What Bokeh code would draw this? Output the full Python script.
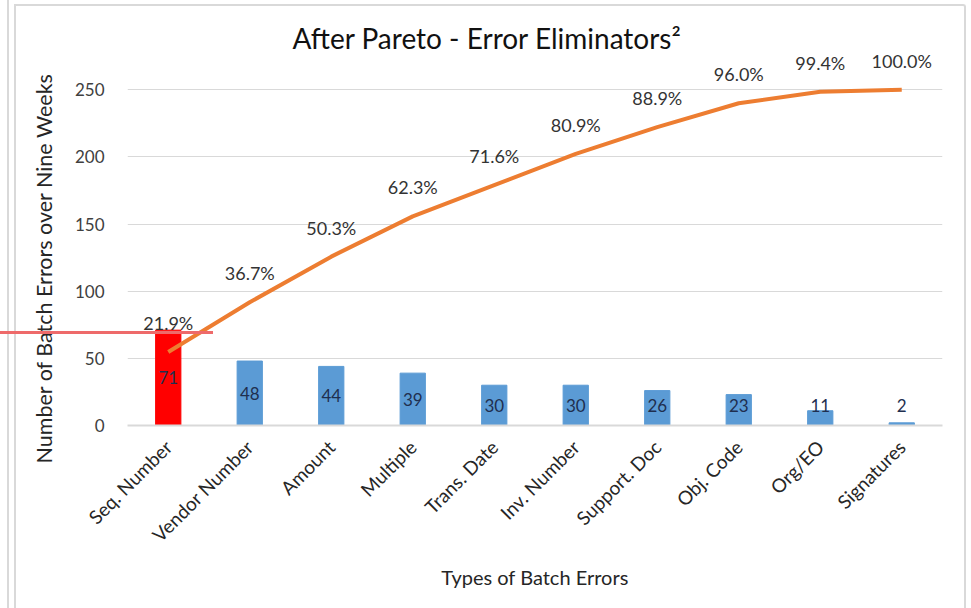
import math

from bokeh.core.properties import value
from bokeh.embed import file_html
from bokeh.models import (ColumnDataSource, FactorRange, FixedTicker, InlineStyleSheet,
                          Range1d, Title)
from bokeh.plotting import figure
from bokeh.resources import INLINE

# Batch error counts over nine weeks, sorted for the Pareto view
categories = ["Seq. Number", "Vendor Number", "Amount", "Multiple", "Trans. Date",
              "Inv. Number", "Support. Doc", "Obj. Code", "Org/EO", "Signatures"]
errors = [71, 48, 44, 39, 30, 30, 26, 23, 11, 2]
cumulative_pct = [21.9, 36.7, 50.3, 62.3, 71.6, 80.9, 88.9, 96.0, 99.4, 100.0]
y_ticks = [0, 50, 100, 150, 200, 250]

FONT = "Lato"
BLUE = "#5B9BD5"
RED = "#FF0000"
ORANGE = "#ED7D31"
GRID = "#D9D9D9"

# the top category is highlighted in red
bar_colors = [RED if i == 0 else BLUE for i in range(len(categories))]
# count labels sit mid-bar, but never lower than 15 units above the baseline
count_y = [max(v / 2, 15) for v in errors]

src = ColumnDataSource(dict(
    cat=categories,
    errors=errors,
    color=bar_colors,
    count_y=count_y,
    count_txt=[str(v) for v in errors],
    pct=cumulative_pct,
    pct_txt=[f"{v:.1f}%" for v in cumulative_pct],
))

# count axis tops out at 250; a little headroom keeps the percentage labels visible
y_top = 280
pct_top = 100 * y_top / 250

# chart border (open at the bottom), plus the red marker line level with the
# top of the leading bar
frame_css = InlineStyleSheet(css="""
:host { position: relative; }
:host::before {
  content: ""; position: absolute; left: 0; top: 0; width: 971px; height: 608px;
  background:
    linear-gradient(#EE6A6A, #EE6A6A) 0px 331px / 213px 3px no-repeat,
    linear-gradient(#D9D9D9, #D9D9D9) 7px 0px / 2px 608px no-repeat;
  z-index: 5; pointer-events: none;
}
:host::after {
  content: ""; position: absolute; left: 14px; top: 4px; width: 952px; height: 604px;
  border: 2px solid #D9D9D9; border-bottom: none; border-top-right-radius: 3px;
  box-sizing: border-box; z-index: 4; pointer-events: none;
}
""")

p = figure(x_range=FactorRange(*categories), y_range=Range1d(0, y_top),
           width=971, height=608, output_backend="svg", toolbar_location=None,
           min_border_left=127, min_border_right=29, min_border_top=49,
           min_border_bottom=183, background_fill_color="white",
           border_fill_color="white", stylesheets=[frame_css])
p.extra_y_ranges = {"pct": Range1d(0, pct_top)}
p.outline_line_color = None

p.title.text = "After Pareto - Error Eliminators²"
p.title.align = "left"
p.title.offset = 165
p.title.standoff = -10
p.title.text_font = FONT
p.title.text_font_size = "28px"
p.title.text_font_style = "normal"
p.title.text_color = "#111111"

p.xgrid.grid_line_color = None
p.ygrid.grid_line_color = GRID
p.ygrid.grid_line_width = 1

p.yaxis.ticker = FixedTicker(ticks=y_ticks)
p.yaxis.axis_line_color = None
p.yaxis.major_tick_line_color = None
p.yaxis.minor_tick_line_color = None
p.yaxis.major_label_standoff = 17
p.yaxis.major_label_text_font = FONT
p.yaxis.major_label_text_font_size = "17px"
p.yaxis.major_label_text_color = "#404040"

p.xaxis.axis_line_color = GRID
p.xaxis.axis_line_width = 2
p.xaxis.major_tick_line_color = None
p.xaxis.minor_tick_line_color = None
p.xaxis.major_label_orientation = math.pi / 4
p.xaxis.major_label_standoff = 12
p.xaxis.major_label_text_font = FONT
p.xaxis.major_label_text_font_size = "19px"
p.xaxis.major_label_text_color = "#262626"
p.xaxis.axis_label = "Types of Batch Errors"
p.xaxis.axis_label_text_font = FONT
p.xaxis.axis_label_text_font_size = "20px"
p.xaxis.axis_label_text_font_style = "normal"
p.xaxis.axis_label_text_color = "#262626"
p.xaxis.axis_label_standoff = 8

# vertical axis title, set in the left panel beside the tick labels
p.add_layout(Title(text="Number of Batch Errors over Nine Weeks", align="left",
                   offset=-38, standoff=30, text_font=FONT, text_font_size="21.5px",
                   text_font_style="normal", text_color="#262626"), "left")

p.vbar(x="cat", top="errors", width=0.31, color="color", source=src)
p.line(x="cat", y="pct", y_range_name="pct", line_color=ORANGE, line_width=4,
       line_join="round", source=src)

p.text(x="cat", y="count_y", text="count_txt", source=src, text_align="center",
       text_baseline="middle", text_font=value(FONT), text_font_size="17px",
       text_color="#1F2F4F")
p.text(x="cat", y="pct", text="pct_txt", source=src, y_range_name="pct",
       y_offset=-29, text_align="center", text_baseline="middle",
       text_font=value(FONT), text_font_size="18px", text_color="#333333")

open("out.html", "w").write(file_html(p, INLINE))
